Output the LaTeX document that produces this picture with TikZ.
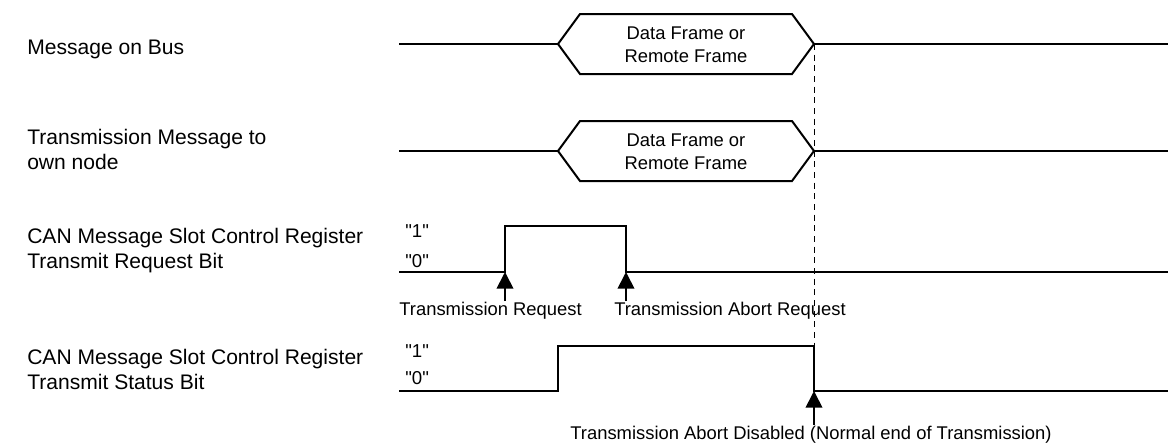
\documentclass[tikz,border=0pt]{standalone}
\usepackage{fontspec}
\setmainfont{Liberation Sans}
\usetikzlibrary{arrows.meta}

\begin{document}
\begin{tikzpicture}[x=0.75pt,y=0.75pt,yscale=-1,xscale=1,
  wave/.style={line width=1.5pt,line join=miter},
  guide/.style={line width=0.75pt,dash pattern=on 4.5pt off 3.5pt},
  sigarrow/.style={line width=1.3pt,-{Triangle[length=12.5pt,width=12.5pt]}},
  rowlbl/.style={anchor=west,inner sep=0.75pt,align=left,font=\fontsize{15.8}{18.4}\selectfont},
  smalllbl/.style={inner sep=0.75pt,align=center,font=\fontsize{13.8}{17.2}\selectfont},
  lvllbl/.style={anchor=west,inner sep=0.75pt,font=\fontsize{14}{16}\selectfont}]
%set diagram to the size of the reference
\useasboundingbox (0,0) rectangle (1168,446);

%Coordinates of the waveform edges
\coordinate (bus in) at (399,44);
\coordinate (bus out) at (1168,44);
\coordinate (own in) at (399,151);
\coordinate (own out) at (1168,151);
\coordinate (req rise) at (505,272);
\coordinate (req fall) at (626,272);
\coordinate (sts rise) at (558,391);
\coordinate (sts fall) at (814,391);

%Shape: Hexagon [Message on Bus]
\draw [wave] (558,44) -- (580,14) -- (792,14) -- (814,44) -- (792,74) -- (580,74) -- cycle ;
\draw (686,45) node (busframe) [smalllbl] {Data Frame or\\Remote Frame};
%Straight Lines
\draw [wave] (bus in) -- (558,44) ;
\draw [wave] (814,44) -- (bus out) ;

%Shape: Hexagon [Transmission Message to own node]
\draw [wave] (558,151) -- (580,121) -- (792,121) -- (814,151) -- (792,181) -- (580,181) -- cycle ;
\draw (686,152) node (ownframe) [smalllbl] {Data Frame or\\Remote Frame};
%Straight Lines
\draw [wave] (own in) -- (558,151) ;
\draw [wave] (814,151) -- (own out) ;

%Transmit Request Bit
\draw [wave] (399,272) -- (req rise) -- (505,226) -- (626,226) -- (req fall) -- (1168,272) ;
%Transmit Status Bit
\draw [wave] (399,391) -- (sts rise) -- (558,346) -- (814,346) -- (sts fall) -- (1168,391) ;

%Dashed Line
\draw [guide] (814,44) -- (814,346) ;

% Text Node
\draw (26,49) node (lblbus) [rowlbl] {Message on Bus};
% Text Node
\draw (26,149.5) node (lblown) [rowlbl] {Transmission Message to\\own node};
% Text Node
\draw (26,250.5) node (lblreq) [rowlbl] {CAN Message Slot Control Register\\Transmit Request Bit};
% Text Node
\draw (26,369.5) node (lblsts) [rowlbl] {CAN Message Slot Control Register\\Transmit Status Bit};

% Text Node
\draw (404,231) node (reqone) [lvllbl] {\textquotedbl 1\textquotedbl};
\draw (404,261.5) node (reqzero) [lvllbl] {\textquotedbl 0\textquotedbl};
\draw (404,351) node (stsone) [lvllbl] {\textquotedbl 1\textquotedbl};
\draw (404,378) node (stszero) [lvllbl] {\textquotedbl 0\textquotedbl};

% Text Node
\draw (583,311) node (txreq) [smalllbl,anchor=east] {Transmission Request};
% Text Node
\draw (613,311) node (txabort) [smalllbl,anchor=west] {Transmission Abort Request};
% Text Node
\draw (811,435) node (txdone) [smalllbl] {Transmission Abort Disabled (Normal end of Transmission)};

%Arrows
\draw [sigarrow] (txreq.north -| req rise) -- (req rise) ;
\draw [sigarrow] (txabort.north -| req fall) -- (req fall) ;
\draw [sigarrow] (txdone.north -| sts fall) -- (sts fall) ;

\end{tikzpicture}
\end{document}
